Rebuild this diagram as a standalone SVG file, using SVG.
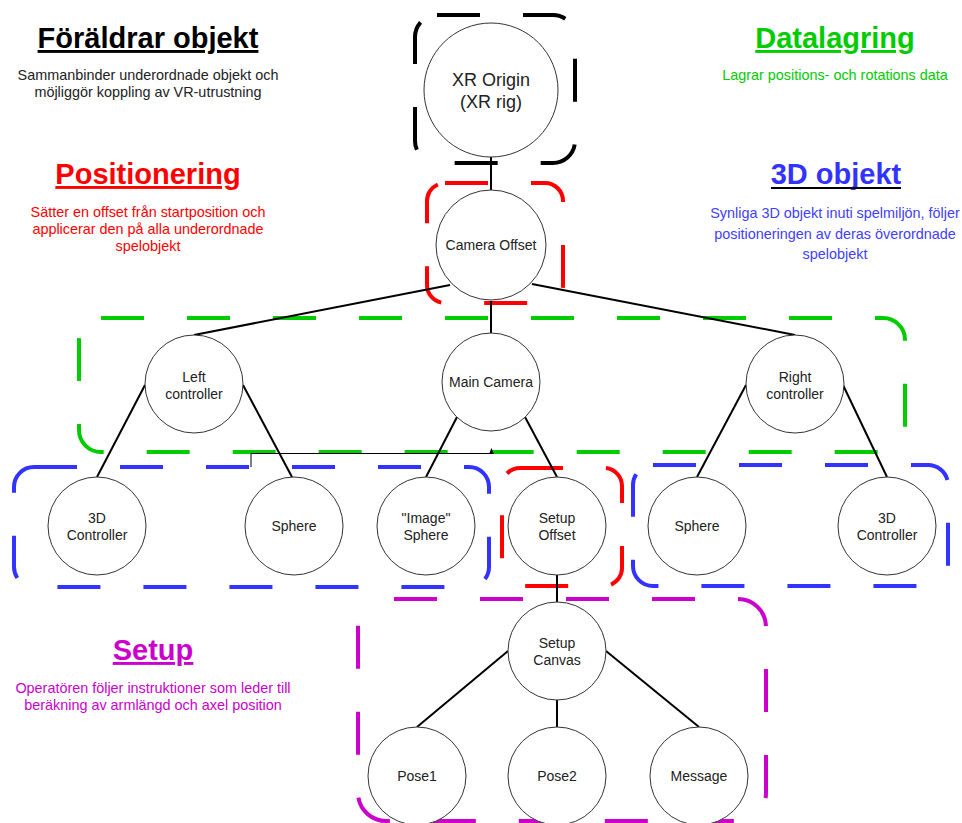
<svg xmlns="http://www.w3.org/2000/svg" width="962" height="823" viewBox="0 0 962 823">
<defs>
<style>
.node circle{fill:#fff;stroke:#333;stroke-width:1}
.node text{font-family:"Liberation Sans",Arial,sans-serif;font-size:14px;fill:#222;text-anchor:middle}
.edge{stroke:#000;stroke-width:2;fill:none}
.grp{fill:none;stroke-width:4;stroke-dasharray:43 43}
.h{font-family:"Liberation Sans",Arial,sans-serif;font-weight:bold;font-size:29px;text-anchor:middle;text-decoration:underline}
.d{font-family:"Liberation Sans",Arial,sans-serif;font-size:14.4px;text-anchor:middle}
</style>
<marker id="arr" viewBox="0 0 10 10" refX="5" refY="5" markerWidth="6" markerHeight="6" orient="auto"><path d="M0,1 L10,5 L0,9 z" fill="#000"/></marker>
</defs>
<rect width="962" height="823" fill="#fff"/>

<g id="groups">
<rect class="grp" x="415" y="15" width="160" height="148" rx="22" stroke="#000"/>
<rect class="grp" x="427" y="183" width="136" height="120" rx="18" stroke="#f00"/>
<rect class="grp" x="79" y="318" width="826" height="134" rx="22" stroke="#00cc00"/>
<rect class="grp" x="14" y="467" width="475" height="120" rx="20" stroke="#3333ff"/>
<rect class="grp" x="633" y="465" width="315" height="121" rx="20" stroke="#3333ff"/>
<rect class="grp" x="502" y="468" width="120" height="118" rx="18" stroke="#f00"/>
<rect class="grp" x="358" y="599" width="408" height="222" rx="28" stroke="#cc00cc" stroke-dashoffset="-8"/>
</g>

<g id="connectors">
<line class="edge" x1="491" y1="157" x2="491" y2="190"/>
<line class="edge" x1="450" y1="285" x2="194" y2="335"/>
<line class="edge" x1="491" y1="301" x2="491" y2="333"/>
<line class="edge" x1="532" y1="284" x2="795" y2="335"/>
<line class="edge" x1="145" y1="385" x2="97" y2="477"/>
<line class="edge" x1="243" y1="385" x2="292" y2="477"/>
<line class="edge" x1="457" y1="417" x2="426" y2="477"/>
<line class="edge" x1="525" y1="417" x2="557" y2="477"/>
<line class="edge" x1="746" y1="385" x2="697" y2="477"/>
<line class="edge" x1="843" y1="385" x2="887" y2="477"/>
<line class="edge" x1="557" y1="575" x2="557" y2="602"/>
<line class="edge" x1="508" y1="651" x2="417" y2="727"/>
<line class="edge" x1="557" y1="700" x2="557" y2="727"/>
<line class="edge" x1="606" y1="651" x2="699" y2="727"/>
<path d="M251,467 L251,453.5 L491.5,453.5 L491.5,451" fill="none" stroke="#000" stroke-width="1" marker-end="url(#arr)"/>
</g>

<g id="n-xr" class="node"><circle cx="491" cy="90" r="67"/><text x="491" y="86" style="font-size:18px">XR Origin</text><text x="491" y="108" style="font-size:18px">(XR rig)</text></g>
<g id="n-camoff" class="node"><circle cx="491" cy="245" r="55"/><text x="491" y="250">Camera Offset</text></g>
<g id="n-left" class="node"><circle cx="194" cy="384" r="49"/><text x="194" y="382">Left</text><text x="194" y="399">controller</text></g>
<g id="n-main" class="node"><circle cx="491" cy="382" r="49"/><text x="491" y="387">Main Camera</text></g>
<g id="n-right" class="node"><circle cx="795" cy="384" r="49"/><text x="795" y="382">Right</text><text x="795" y="399">controller</text></g>
<g id="n-3dl" class="node"><circle cx="97" cy="526" r="49"/><text x="97" y="523">3D</text><text x="97" y="540">Controller</text></g>
<g id="n-sphl" class="node"><circle cx="294" cy="526" r="49"/><text x="294" y="531">Sphere</text></g>
<g id="n-img" class="node"><circle cx="426" cy="526" r="49"/><text x="426" y="523">"Image"</text><text x="426" y="540">Sphere</text></g>
<g id="n-setoff" class="node"><circle cx="557" cy="526" r="49"/><text x="557" y="523">Setup</text><text x="557" y="540">Offset</text></g>
<g id="n-sphr" class="node"><circle cx="697" cy="526" r="49"/><text x="697" y="531">Sphere</text></g>
<g id="n-3dr" class="node"><circle cx="887" cy="526" r="49"/><text x="887" y="523">3D</text><text x="887" y="540">Controller</text></g>
<g id="n-canvas" class="node"><circle cx="557" cy="651" r="49"/><text x="557" y="648">Setup</text><text x="557" y="665">Canvas</text></g>
<g id="n-pose1" class="node"><circle cx="417" cy="776" r="49"/><text x="417" y="781">Pose1</text></g>
<g id="n-pose2" class="node"><circle cx="557" cy="776" r="49"/><text x="557" y="781">Pose2</text></g>
<g id="n-msg" class="node"><circle cx="699" cy="776" r="49"/><text x="699" y="781">Message</text></g>

<g id="legend">
<text class="h" x="148" y="48" fill="#000">Föräldrar objekt</text>
<text class="d" x="148" y="80" fill="#222">Sammanbinder underordnade objekt och</text>
<text class="d" x="148" y="97" fill="#222">möjliggör koppling av VR-utrustning</text>
<text class="h" x="148" y="184" fill="#f00">Positionering</text>
<text class="d" x="148" y="217" fill="#f00">Sätter en offset från startposition och</text>
<text class="d" x="148" y="234" fill="#f00">applicerar den på alla underordnade</text>
<text class="d" x="148" y="251" fill="#f00">spelobjekt</text>
<text class="h" x="835" y="48" fill="#00cc00">Datalagring</text>
<text class="d" x="835" y="80" fill="#00cc00">Lagrar positions- och rotations data</text>
<text class="h" x="836" y="184" fill="#3333ff" style="text-decoration:none">3D objekt</text>
<line x1="771" y1="188" x2="901" y2="188" stroke="#000" stroke-width="2"/>
<text class="d" x="835" y="218" fill="#4040ff">Synliga 3D objekt inuti spelmiljön, följer</text>
<text class="d" x="835" y="239" fill="#4040ff">positioneringen av deras överordnade</text>
<text class="d" x="835" y="259" fill="#4040ff">spelobjekt</text>
<text class="h" x="153" y="660" fill="#cc00cc">Setup</text>
<text class="d" x="153" y="693" fill="#cc00cc">Operatören följer instruktioner som leder till</text>
<text class="d" x="153" y="710" fill="#cc00cc">beräkning av armlängd och axel position</text>
</g>
</svg>
